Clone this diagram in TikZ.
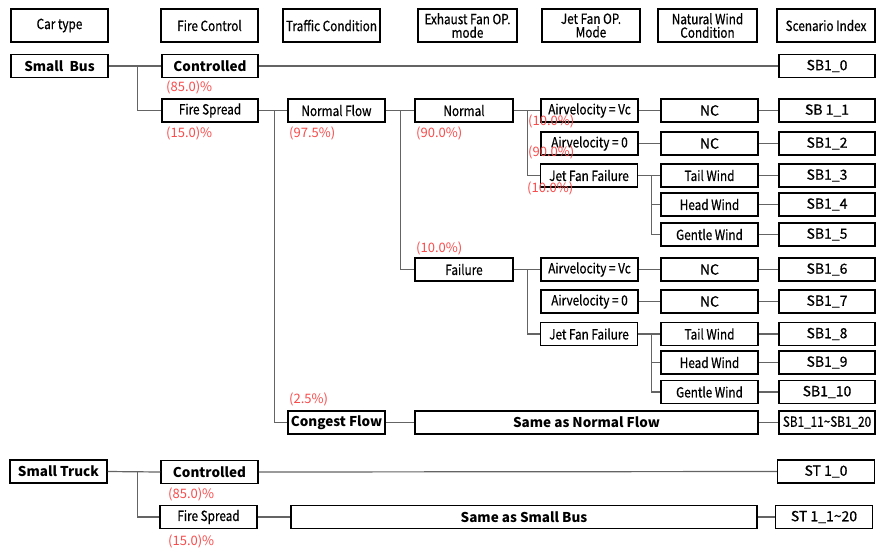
\documentclass[tikz,border=0pt]{standalone}
\usepackage{fontspec}
\setmainfont{Noto Sans CJK KR}
\newfontfamily\medfont[FakeBold=0.6]{Noto Sans CJK KR}
\newfontfamily\condfont[FakeStretch=0.84,FakeBold=0.6]{Noto Sans CJK KR}

\definecolor{pctred}{RGB}{250,75,75}
\definecolor{linkgray}{RGB}{100,100,100}

\tikzset{
	cell/.style={draw, line width=1.5pt, fill=white, minimum width=97pt, minimum height=23pt, inner sep=1pt, font=\medfont\fontsize{14}{14}\selectfont},
	hdr/.style={cell, minimum height=33pt, inner sep=0pt, align=center, font=\condfont\fontsize{14}{13.5}\selectfont},
	bold/.style={font=\bfseries\fontsize{13.5}{14}\selectfont},
	tight/.style={font=\condfont\fontsize{14}{14}\selectfont},
	pct/.style={pctred, anchor=west, inner sep=0pt, font=\fontsize{13}{13}\selectfont},
	link/.style={linkgray, line width=1.2pt}
}

\begin{document}
\begin{tikzpicture}[x=1pt, y=-1pt]
	\useasboundingbox[fill=white] (0,0) rectangle (876,550);

	% header row
	\node[hdr] (hcar) at (59.5,25.5) {Car type};
	\node[hdr] (hfire) at (209.5,25.5) {Fire Control};
	\node[hdr] (htraffic) at (331.5,25.5) {Traffic Condition};
	\node[hdr, minimum width=99pt] (hexhaust) at (467.5,25.5) {Exhaust Fan OP.\\mode};
	\node[hdr, minimum width=98pt] (hjet) at (591,25.5) {Jet Fan OP.\\Mode};
	\node[hdr, minimum width=99pt] (hwind) at (707.5,25.5) {Natural Wind\\Condition};
	\node[hdr, minimum width=98pt] (hindex) at (826,25.5) {Scenario Index};

	% small bus
	\node[cell, bold] (sbus) at (59.5,66) {Small\ \ Bus};
	\node[cell, bold, minimum width=96pt] (sbctrl) at (210,66) {Controlled};
	\node[cell, minimum width=96pt] (sb0) at (827,66) {SB1\_0};
	\node[cell, tight, minimum width=96pt] (sbfire) at (210,110.5) {Fire Spread};
	\node[cell, tight] (sbnormflow) at (336.5,110.5) {Normal Flow};
	\node[cell, tight, minimum width=98pt] (sbnormal) at (464,110.5) {Normal};

	% exhaust fan normal
	\node[cell, tight] (avc1) at (589.5,110.5) {Airvelocity = Vc};
	\node[cell] (nc1) at (709.5,110.5) {NC};
	\node[cell, minimum width=96pt] (sb1) at (827,110.5) {SB 1\_1};
	\node[cell, tight] (av01) at (589.5,143.5) {Airvelocity = 0};
	\node[cell] (nc2) at (709.5,143.5) {NC};
	\node[cell, minimum width=96pt] (sb2) at (827,143.5) {SB1\_2};
	\node[cell, tight] (jff1) at (589,175.5) {Jet Fan Failure};
	\node[cell, tight] (tail1) at (709.5,175.5) {Tail Wind};
	\node[cell, minimum width=96pt] (sb3) at (827,175.5) {SB1\_3};
	\node[cell, tight] (head1) at (709.5,204.5) {Head Wind};
	\node[cell, minimum width=96pt] (sb4) at (827,204.5) {SB1\_4};
	\node[cell, tight] (gent1) at (709.5,234.5) {Gentle Wind};
	\node[cell, minimum width=96pt] (sb5) at (827,234.5) {SB1\_5};

	% exhaust fan failure
	\node[cell, tight, minimum width=98pt] (fail) at (464,269.5) {Failure};
	\node[cell, tight] (avc2) at (589.5,269.5) {Airvelocity = Vc};
	\node[cell] (nc3) at (709.5,269.5) {NC};
	\node[cell, minimum width=96pt] (sb6) at (827,269.5) {SB1\_6};
	\node[cell, tight] (av02) at (589.5,301.5) {Airvelocity = 0};
	\node[cell] (nc4) at (709.5,301.5) {NC};
	\node[cell, minimum width=96pt] (sb7) at (827,301.5) {SB1\_7};
	\node[cell, tight] (jff2) at (589,334) {Jet Fan Failure};
	\node[cell, tight] (tail2) at (709.5,334) {Tail Wind};
	\node[cell, minimum width=96pt] (sb8) at (827,334) {SB1\_8};
	\node[cell, tight] (head2) at (709.5,362.5) {Head Wind};
	\node[cell, minimum width=96pt] (sb9) at (827,362.5) {SB1\_9};
	\node[cell, tight] (gent2) at (709.5,392) {Gentle Wind};
	\node[cell, minimum width=96pt] (sb10) at (827,392) {SB1\_10};

	% congest flow
	\node[cell, bold] (congest) at (336.5,422.5) {Congest Flow};
	\node[cell, bold, minimum width=343pt] (samenf) at (586.5,422.5) {Same as Normal Flow};
	\node[cell, tight, minimum width=96pt, inner sep=0pt] (sb11) at (827,422.5) {SB1\_11\textasciitilde SB1\_20};

	% small truck
	\node[cell, bold] (struck) at (58.5,471.5) {Small\ Truck};
	\node[cell, bold] (stctrl) at (209.5,472) {Controlled};
	\node[cell] (st0) at (826,471.5) {ST 1\_0};
	\node[cell, tight] (stfire) at (208.5,517) {Fire Spread};
	\node[cell, bold, minimum width=466pt] (samesb) at (524,517) {Same as Small Bus};
	\node[cell] (st1) at (824,517) {ST 1\_1\textasciitilde 20};

	% connectors
	\foreach \a/\b in {sbus/sbctrl, sbctrl/sb0, sbfire/sbnormflow, sbnormflow/sbnormal,
		sbnormal/avc1, avc1/nc1, nc1/sb1, av01/nc2, nc2/sb2, jff1/tail1, tail1/sb3,
		head1/sb4, gent1/sb5, fail/avc2, avc2/nc3, nc3/sb6, av02/nc4, nc4/sb7,
		jff2/tail2, tail2/sb8, head2/sb9, gent2/sb10, congest/samenf, samenf/sb11,
		struck/stctrl, stctrl/st0, stfire/samesb, samesb/st1}
		\draw[link] (\a.east) -- (\b.west);
	\foreach \a/\b/\d in {sbus/sbfire/29, sbfire/congest/16, sbnormflow/fail/15,
		sbnormal/jff1/14, jff1/head1/13, jff1/gent1/13, fail/jff2/14,
		jff2/head2/13, jff2/gent2/13, struck/stfire/30}
		\draw[link] (\a.east) -- ++(\d,0) |- (\b.west);

	% probabilities
	\node[pct] (p1) at (166,87) {(85.0)\%};
	\node[pct] (p2) at (166,133) {(15.0)\%};
	\node[pct] (p3) at (289,133) {(97.5\%)};
	\node[pct] (p4) at (416,133) {(90.0\%)};
	\node[pct] (p5) at (528,121) {(10.0\%)};
	\node[pct] (p6) at (528,152) {(90.0\%)};
	\node[pct] (p7) at (527,188) {(10.0\%)};
	\node[pct] (p8) at (416,248) {(10.0\%)};
	\node[pct] (p9) at (289,399) {(2.5\%)};
	\node[pct] (p10) at (168,494) {(85.0)\%};
	\node[pct] (p11) at (168,541) {(15.0)\%};
\end{tikzpicture}
\end{document}
